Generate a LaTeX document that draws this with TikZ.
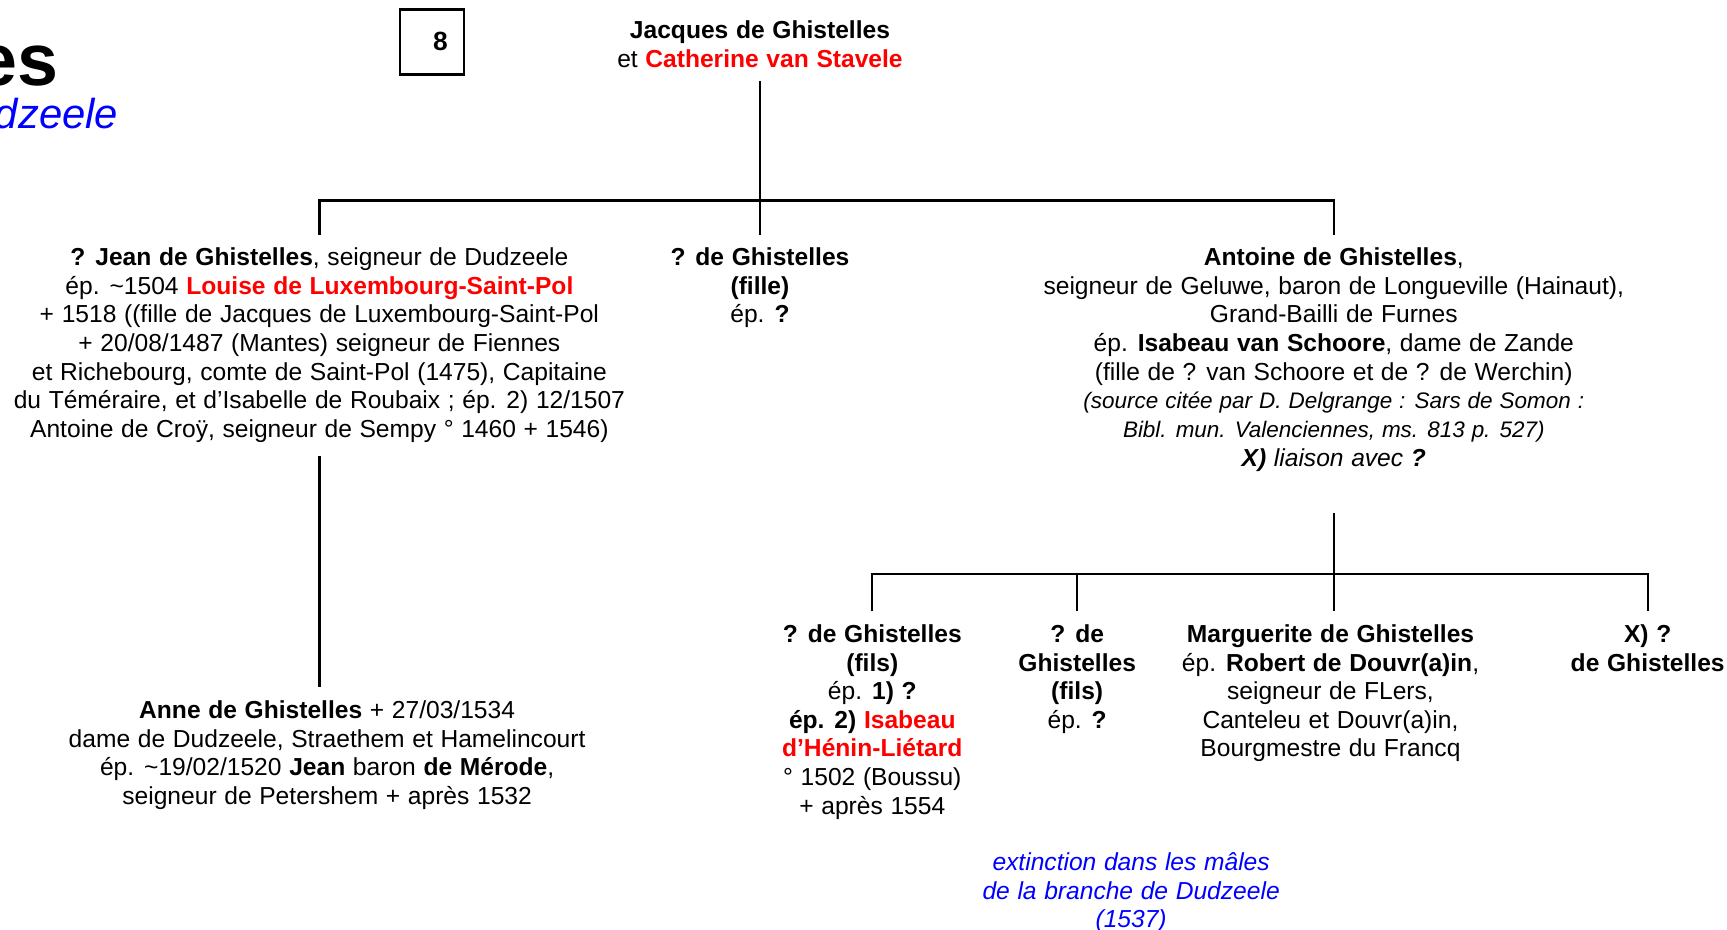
\documentclass[tikz,border=0pt]{standalone}
\usepackage{fontspec}
\setmainfont[WordSpace=1.12]{Liberation Sans}
\usepackage{tikz}

\newcommand{\bodyfont}{\fontsize{6.35pt}{7.4pt}\selectfont}
\newcommand{\srcfont}{\fontsize{5.8pt}{7.4pt}\selectfont\itshape}

\begin{document}
\begin{tikzpicture}[x=0.01cm, y=-0.01cm,
		node_style/.style={align=center,anchor=north,inner sep=0pt,outer sep=0.12cm,font=\bodyfont},
		note_style/.style={node_style,text=blue,font=\bodyfont\itshape},
		num_style/.style={draw=black,line width=0.6pt,minimum width=0.58cm,minimum height=0.59cm,inner sep=0pt,font=\fontsize{6.8pt}{8pt}\selectfont\bfseries},
		edge_style/.style={draw=black,line width=0.6pt}]

		\useasboundingbox (0,0) rectangle (1568,844);
		\clip (0,0) rectangle (1568,844);

		% titre (coupe a gauche)
		\node[anchor=base east,inner sep=0pt,font=\fontsize{19pt}{22pt}\selectfont\bfseries] (title) at (54,78) {es};
		\node[anchor=base east,inner sep=0pt,text=blue,font=\fontsize{10.8pt}{12pt}\selectfont\itshape] (subtitle) at (108,117) {dzeele};
		\node[num_style] (num) at (392,38) {\hspace*{0.16cm}8};

		% generation 1
		\node[node_style] (jacques) at (690,7) {{\bfseries Jacques de Ghistelles}\\ et {\color{red}\bfseries Catherine van Stavele}};

		% generation 2
		\node[node_style] (jean) at (290,213) {{\bfseries ? Jean de Ghistelles}, seigneur de Dudzeele\\
			ép. \textasciitilde1504 {\color{red}\bfseries Louise de Luxembourg-Saint-Pol}\\
			+ 1518 ((fille de Jacques de Luxembourg-Saint-Pol\\
			+ 20/08/1487 (Mantes) seigneur de Fiennes\\
			et Richebourg, comte de Saint-Pol (1475), Capitaine\\
			du Téméraire, et d’Isabelle de Roubaix ; ép. 2) 12/1507\\
			Antoine de Croÿ, seigneur de Sempy ° 1460 + 1546)};
		\node[node_style] (fille) at (690,213) {{\bfseries ? de Ghistelles}\\ {\bfseries (fille)}\\ ép. {\bfseries ?}};
		\node[node_style] (antoine) at (1211,213) {{\bfseries Antoine de Ghistelles},\\
			seigneur de Geluwe, baron de Longueville (Hainaut),\\
			Grand-Bailli de Furnes\\
			ép. {\bfseries Isabeau van Schoore}, dame de Zande\\
			(fille de ? van Schoore et de ? de Werchin)\\
			{\srcfont (source citée par D. Delgrange : Sars de Somon :}\\
			{\srcfont Bibl. mun. Valenciennes, ms. 813 p. 527)}\\
			{\itshape\bfseries X)} {\itshape liaison avec} {\itshape\bfseries ?}};

		% generation 3
		\node[node_style] (anne) at (297,624) {{\bfseries Anne de Ghistelles} + 27/03/1534\\
			dame de Dudzeele, Straethem et Hamelincourt\\
			ép. \textasciitilde19/02/1520 {\bfseries Jean} baron {\bfseries de Mérode},\\
			seigneur de Petershem + après 1532};
		\node[node_style] (fils1) at (792,555) {{\bfseries ? de Ghistelles}\\ {\bfseries (fils)}\\ ép. {\bfseries 1) ?}\\
			{\bfseries ép. 2) {\color{red}Isabeau}}\\ {\color{red}\bfseries d’Hénin-Liétard}\\
			° 1502 (Boussu)\\ + après 1554};
		\node[node_style] (fils2) at (978,555) {{\bfseries ? de}\\ {\bfseries Ghistelles}\\ {\bfseries (fils)}\\ ép. {\bfseries ?}};
		\node[node_style] (marg) at (1208,555) {{\bfseries Marguerite de Ghistelles}\\
			ép. {\bfseries Robert de Douvr(a)in},\\
			seigneur de FLers,\\
			Canteleu et Douvr(a)in,\\
			Bourgmestre du Francq};
		\node[node_style] (xfils) at (1496,555) {{\bfseries X) ?}\\ {\bfseries de Ghistelles}};

		\node[note_style] (ext) at (1027,762) {extinction dans les mâles\\ de la branche de Dudzeele\\ (1537)};

		% liens
		\draw[edge_style] (jacques) edge node{} (fille);
		\draw[edge_style] (jean.north) -- ++(0,-31) -| (antoine.north);
		\draw[edge_style] (jean.south) -- (jean.south |- anne.north);
		\draw[edge_style] ([yshift=-0.26cm]antoine.south) -- (antoine.south |- marg.north);
		\draw[edge_style] (fils1.north) -- ++(0,-34) -| (xfils.north);
		\draw[edge_style] (fils2.north) -- ++(0,-34);
\end{tikzpicture}
\end{document}
